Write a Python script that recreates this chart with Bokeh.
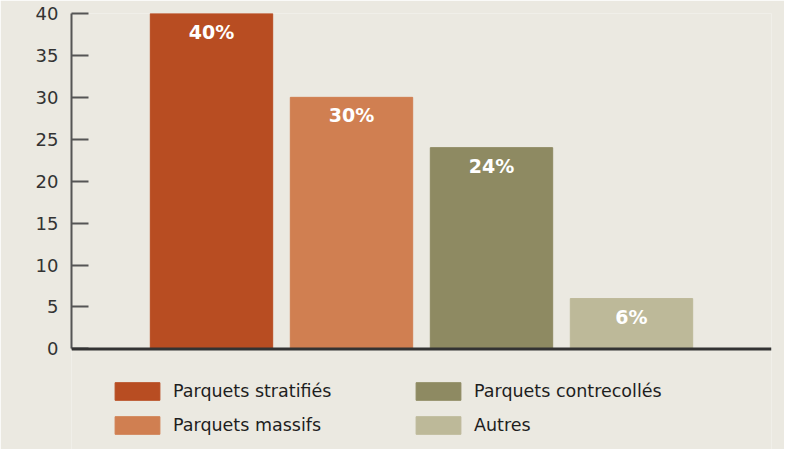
from bokeh.plotting import figure
from bokeh.models import ColumnDataSource, Range1d, SingleIntervalTicker, Legend, LegendItem, Span
from bokeh.core.properties import value
from bokeh.embed import file_html
from bokeh.resources import INLINE

categories = ["Parquets stratifiés", "Parquets massifs", "Parquets contrecollés", "Autres"]
values = [40, 30, 24, 6]
labels = ["40%", "30%", "24%", "6%"]
colors = ["#b84d22", "#d07f51", "#8e8a62", "#bdb999"]
positions = [1, 2, 3, 4]

BG = "#ebe9e1"

src = ColumnDataSource(dict(x=positions, top=values, label=labels, color=colors, name=categories))

p = figure(width=784, height=449, output_backend="svg", toolbar_location=None,
           x_range=Range1d(0, 5.0), y_range=Range1d(-12, 40),
           min_border_left=71, min_border_right=13, min_border_top=13, min_border_bottom=0,
           background_fill_color=BG, border_fill_color=BG)
p.outline_line_color = None
p.grid.visible = False
p.xaxis.visible = False

bars = p.vbar(x="x", top="top", width=0.874, bottom=0, color="color", source=src)

p.text(x="x", y="top", text="label", source=src, text_color="white",
       text_font=value("DejaVu Sans"), text_font_style="bold", text_font_size="19px",
       text_align="center", text_baseline="middle", y_offset=18)

# baseline
p.add_layout(Span(location=0, dimension="width", line_color="#333333", line_width=3))

# y axis
ya = p.yaxis[0]
ya.ticker = SingleIntervalTicker(interval=5)
ya.bounds = (0, 40)
ya.axis_line_color = "#555555"
ya.axis_line_width = 2
ya.major_tick_in = 17
ya.major_tick_out = 0
ya.major_tick_line_color = "#555555"
ya.major_tick_line_width = 2
ya.minor_tick_line_color = None
ya.major_label_text_font = "DejaVu Sans"
ya.major_label_text_font_size = "18px"
ya.major_label_text_color = "#333333"
ya.major_label_standoff = 9

def make_legend(idxs, x):
    items = [LegendItem(label=categories[i], renderers=[bars], index=i) for i in idxs]
    return Legend(items=items, location=(x, 13), orientation="vertical",
                  glyph_width=56, glyph_height=22, label_height=22, spacing=12,
                  label_standoff=8, padding=0, margin=0,
                  border_line_color=None, background_fill_alpha=0,
                  label_text_font="DejaVu Sans", label_text_font_size="17.5px",
                  label_text_color="#1e1e1e")

p.add_layout(make_legend([0, 1], 38))
p.add_layout(make_legend([2, 3], 339))

open("out.html", "w").write(file_html(p, INLINE))
